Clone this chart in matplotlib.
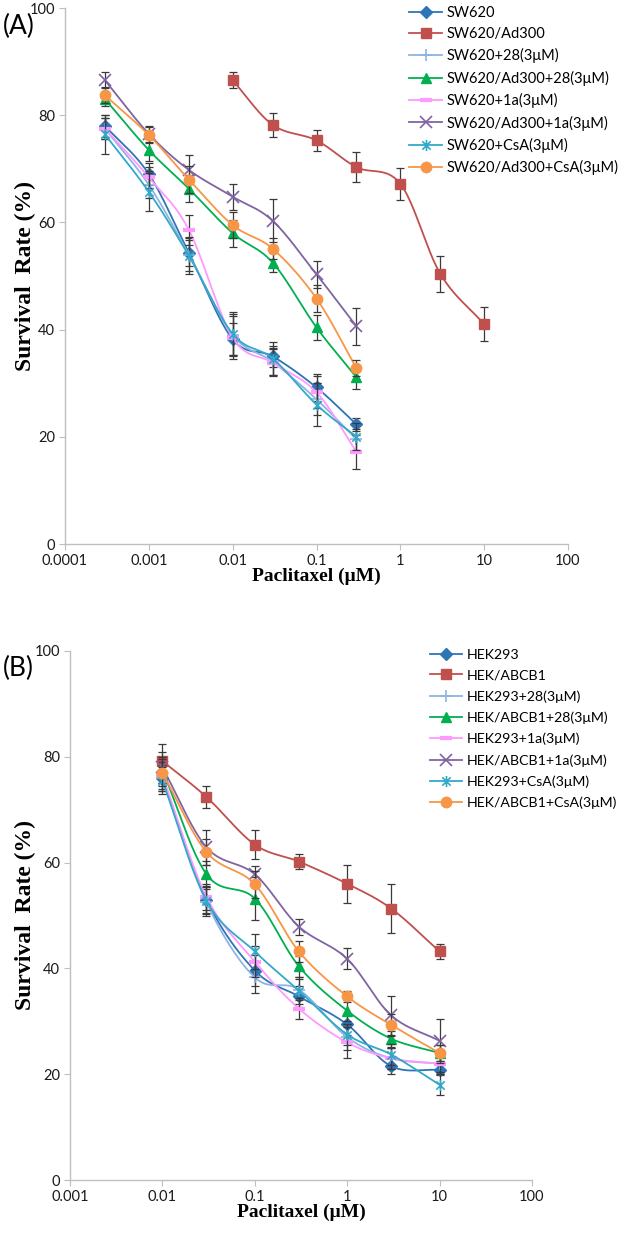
import numpy as np
import matplotlib
matplotlib.use("Agg")
import matplotlib.pyplot as plt
from matplotlib.path import Path

# ---- data: panel A (SW620 lines) ----
conc_a = [0.0003, 0.001, 0.003, 0.01, 0.03, 0.1, 0.3]
conc_a_res = [0.01, 0.03, 0.1, 0.3, 1, 3, 10]

labels_a = ["SW620", "SW620/Ad300", "SW620+28(3\u03bcM)", "SW620/Ad300+28(3\u03bcM)",
            "SW620+1a(3\u03bcM)", "SW620/Ad300+1a(3\u03bcM)", "SW620+CsA(3\u03bcM)",
            "SW620/Ad300+CsA(3\u03bcM)"]

sw620 = [78.0, 69.0, 54.3, 38.2, 35.0, 29.2, 22.3]
sw620_ad300 = [86.5, 78.2, 75.3, 70.3, 67.2, 50.4, 41.0]
sw620_28 = [77.5, 67.0, 54.0, 39.0, 34.0, 27.0, 19.5]
ad300_28 = [83.0, 73.5, 66.3, 58.0, 52.5, 40.4, 31.1]
sw620_1a = [77.5, 68.4, 58.6, 38.5, 33.8, 28.3, 17.2]
ad300_1a = [86.5, 76.5, 69.8, 64.8, 60.3, 50.3, 40.6]
sw620_csa = [76.4, 65.7, 53.8, 39.2, 34.6, 26.0, 20.0]
ad300_csa = [83.7, 76.3, 68.0, 59.5, 55.1, 45.8, 32.8]

err_sw620 = [2.0, 2.0, 2.5, 3.0, 2.0, 2.5, 1.2]
err_sw620_ad300 = [1.5, 2.3, 1.9, 2.8, 3.0, 3.4, 3.2]
err_sw620_28 = [2.0, 2.5, 3.0, 4.0, 2.5, 3.0, 2.0]
err_ad300_28 = [1.3, 2.0, 2.5, 2.5, 1.7, 2.3, 2.2]
err_sw620_1a = [2.0, 2.0, 2.8, 4.0, 2.5, 3.0, 3.2]
err_ad300_1a = [1.5, 1.5, 2.7, 2.4, 4.0, 2.5, 3.5]
err_sw620_csa = [3.6, 3.5, 3.5, 4.0, 3.0, 4.0, 2.5]
err_ad300_csa = [1.5, 1.5, 2.5, 2.5, 2.0, 2.5, 1.5]

# ---- data: panel B (HEK293 lines) ----
conc_b = [0.01, 0.03, 0.1, 0.3, 1, 3, 10]

labels_b = ["HEK293", "HEK/ABCB1", "HEK293+28(3\u03bcM)", "HEK/ABCB1+28(3\u03bcM)",
            "HEK293+1a(3\u03bcM)", "HEK/ABCB1+1a(3\u03bcM)", "HEK293+CsA(3\u03bcM)",
            "HEK/ABCB1+CsA(3\u03bcM)"]

hek293 = [76.0, 53.0, 39.6, 34.7, 29.4, 21.5, 20.8]
hek_abcb1 = [79.2, 72.4, 63.4, 60.2, 56.0, 51.3, 43.2]
hek293_28 = [76.0, 52.5, 38.3, 36.0, 27.0, 23.0, 22.0]
abcb1_28 = [77.5, 57.8, 53.2, 40.4, 32.0, 26.7, 24.0]
hek293_1a = [76.5, 53.5, 41.3, 32.4, 26.0, 23.0, 22.0]
abcb1_1a = [78.0, 62.9, 57.8, 47.9, 41.8, 31.1, 26.3]
hek293_csa = [75.5, 52.8, 43.2, 35.8, 27.5, 23.7, 18.0]
abcb1_csa = [77.0, 62.0, 55.9, 43.2, 34.7, 29.3, 24.0]

err_hek293 = [2.5, 2.5, 3.0, 2.0, 2.0, 1.5, 1.0]
err_hek_abcb1 = [3.3, 2.0, 2.7, 1.5, 3.6, 4.6, 1.5]
err_hek293_28 = [2.5, 2.5, 3.0, 2.0, 2.5, 2.0, 2.0]
err_abcb1_28 = [2.5, 2.5, 4.0, 2.0, 2.0, 1.5, 1.5]
err_hek293_1a = [2.5, 2.5, 3.0, 2.0, 3.0, 2.0, 1.5]
err_abcb1_1a = [3.0, 3.3, 1.5, 1.5, 2.0, 3.6, 4.2]
err_hek293_csa = [2.5, 2.5, 3.3, 2.5, 2.0, 2.0, 2.0]
err_abcb1_csa = [2.5, 2.5, 2.5, 2.0, 1.0, 2.0, 1.5]

# excel-like series styles
colors = ["#2E75B6", "#C0504D", "#8EB4E3", "#00B050", "#FF99FF", "#8064A2", "#31A9C9", "#F79646"]
asterisk = Path([(0, -1), (0, 1), (-0.75, -0.75), (0.75, 0.75), (-0.75, 0.75), (0.75, -0.75)],
                [Path.MOVETO, Path.LINETO, Path.MOVETO, Path.LINETO, Path.MOVETO, Path.LINETO])
markers = ["D", "s", "+", "^", "_", "x", asterisk, "o"]
msizes = [6, 7.5, 8, 7.5, 8, 8, 8, 7.5]
mew = [1, 1, 1.2, 1, 3, 1.2, 1.2, 1]


def smooth(xs, ys, n=25):
    # catmull-rom in (log x, y), like excel's smoothed line
    lx = np.log10(xs)
    y = np.asarray(ys, float)
    px = np.concatenate([[2 * lx[0] - lx[1]], lx, [2 * lx[-1] - lx[-2]]])
    py = np.concatenate([[2 * y[0] - y[1]], y, [2 * y[-1] - y[-2]]])
    ox, oy = [], []
    t = np.linspace(0, 1, n)
    for i in range(1, len(px) - 2):
        for p, out in ((px, ox), (py, oy)):
            p0, p1, p2, p3 = p[i - 1], p[i], p[i + 1], p[i + 2]
            v = 0.5 * ((2 * p1) + (-p0 + p2) * t + (2 * p0 - 5 * p1 + 4 * p2 - p3) * t ** 2
                       + (-p0 + 3 * p1 - 3 * p2 + p3) * t ** 3)
            out.extend(v)
    return 10 ** np.array(ox), np.array(oy)


def draw_panel(ax, xsets, ysets, esets, xlim, xticks, xticklabels, ylab_x):
    handles = []
    for i, (xs, ys, es) in enumerate(zip(xsets, ysets, esets)):
        sx, sy = smooth(xs, ys)
        ax.plot(sx, sy, color=colors[i], lw=1.3, zorder=2 + i)
        ax.errorbar(xs, ys, yerr=es, fmt="none", ecolor="#3a3a3a", elinewidth=0.9,
                    capsize=3, capthick=0.9, zorder=2 + i)
        ax.plot(xs, ys, ls="none", marker=markers[i], ms=msizes[i], mew=mew[i],
                color=colors[i], zorder=3 + i)
        h, = ax.plot([], [], color=colors[i], lw=1.3, marker=markers[i], ms=msizes[i],
                     mew=mew[i])
        handles.append(h)
    ax.set_xscale("log")
    ax.set_xlim(*xlim)
    ax.set_ylim(0, 100)
    ax.minorticks_off()
    ax.set_xticks(xticks)
    ax.set_xticklabels(xticklabels)
    ax.set_yticks([0, 20, 40, 60, 80, 100])
    for s in ["top", "right"]:
        ax.spines[s].set_visible(False)
    for s in ["left", "bottom"]:
        ax.spines[s].set_color("#BFBFBF")
        ax.spines[s].set_linewidth(1)
    ax.tick_params(direction="out", length=4, color="#BFBFBF", labelsize=10.5,
                   labelcolor="#1a1a1a", pad=3)
    for lab in ax.get_xticklabels() + ax.get_yticklabels():
        lab.set_fontfamily("Lato")
    ax.set_xlabel("Paclitaxel (\u03bcM)", family="Liberation Serif", fontweight="bold",
                  fontsize=14, labelpad=0)
    ax.set_ylabel("Survival  Rate (%)", family="Liberation Serif", fontweight="bold",
                  fontsize=17)
    ax.yaxis.set_label_coords(ylab_x, 0.5)
    return handles


W, H = 628, 1237
fig = plt.figure(figsize=(W / 100, H / 100), dpi=100)


def px_axes(left, right, top, bottom):
    return fig.add_axes([left / W, 1 - bottom / H, (right - left) / W, (bottom - top) / H])


ax_a = px_axes(65, 568, 8, 544)
hA = draw_panel(ax_a,
                [conc_a, conc_a_res, conc_a, conc_a, conc_a, conc_a, conc_a, conc_a],
                [sw620, sw620_ad300, sw620_28, ad300_28, sw620_1a, ad300_1a, sw620_csa, ad300_csa],
                [err_sw620, err_sw620_ad300, err_sw620_28, err_ad300_28, err_sw620_1a,
                 err_ad300_1a, err_sw620_csa, err_ad300_csa],
                (1e-4, 100), [1e-4, 1e-3, 1e-2, 0.1, 1, 10, 100],
                ["0.0001", "0.001", "0.01", "0.1", "1", "10", "100"], (36 - 65) / 503)
fig.legend(hA, labels_a, loc="upper left", bbox_to_anchor=(403 / W, 1 - 0 / H),
           frameon=False, prop={"family": "Lato", "size": 10.5}, handlelength=2.3,
           handletextpad=0.3, labelspacing=0.5, borderaxespad=0)

ax_b = px_axes(70, 532, 651, 1180)
hB = draw_panel(ax_b, [conc_b] * 8,
                [hek293, hek_abcb1, hek293_28, abcb1_28, hek293_1a, abcb1_1a, hek293_csa, abcb1_csa],
                [err_hek293, err_hek_abcb1, err_hek293_28, err_abcb1_28, err_hek293_1a,
                 err_abcb1_1a, err_hek293_csa, err_abcb1_csa],
                (1e-3, 100), [1e-3, 1e-2, 0.1, 1, 10, 100],
                ["0.001", "0.01", "0.1", "1", "10", "100"], (36 - 70) / 462)
fig.legend(hB, labels_b, loc="upper left", bbox_to_anchor=(424 / W, 1 - 643 / H),
           frameon=False, prop={"family": "Lato", "size": 10.2}, handlelength=2.3,
           handletextpad=0.3, labelspacing=0.62, borderaxespad=0)

fig.text(3 / W, 1 - 26 / H, "(A)", family="Lato", fontsize=19, va="center", ha="left")
fig.text(3 / W, 1 - 668 / H, "(B)", family="Lato", fontsize=19, va="center", ha="left")

fig.savefig("out.png", dpi=100)
